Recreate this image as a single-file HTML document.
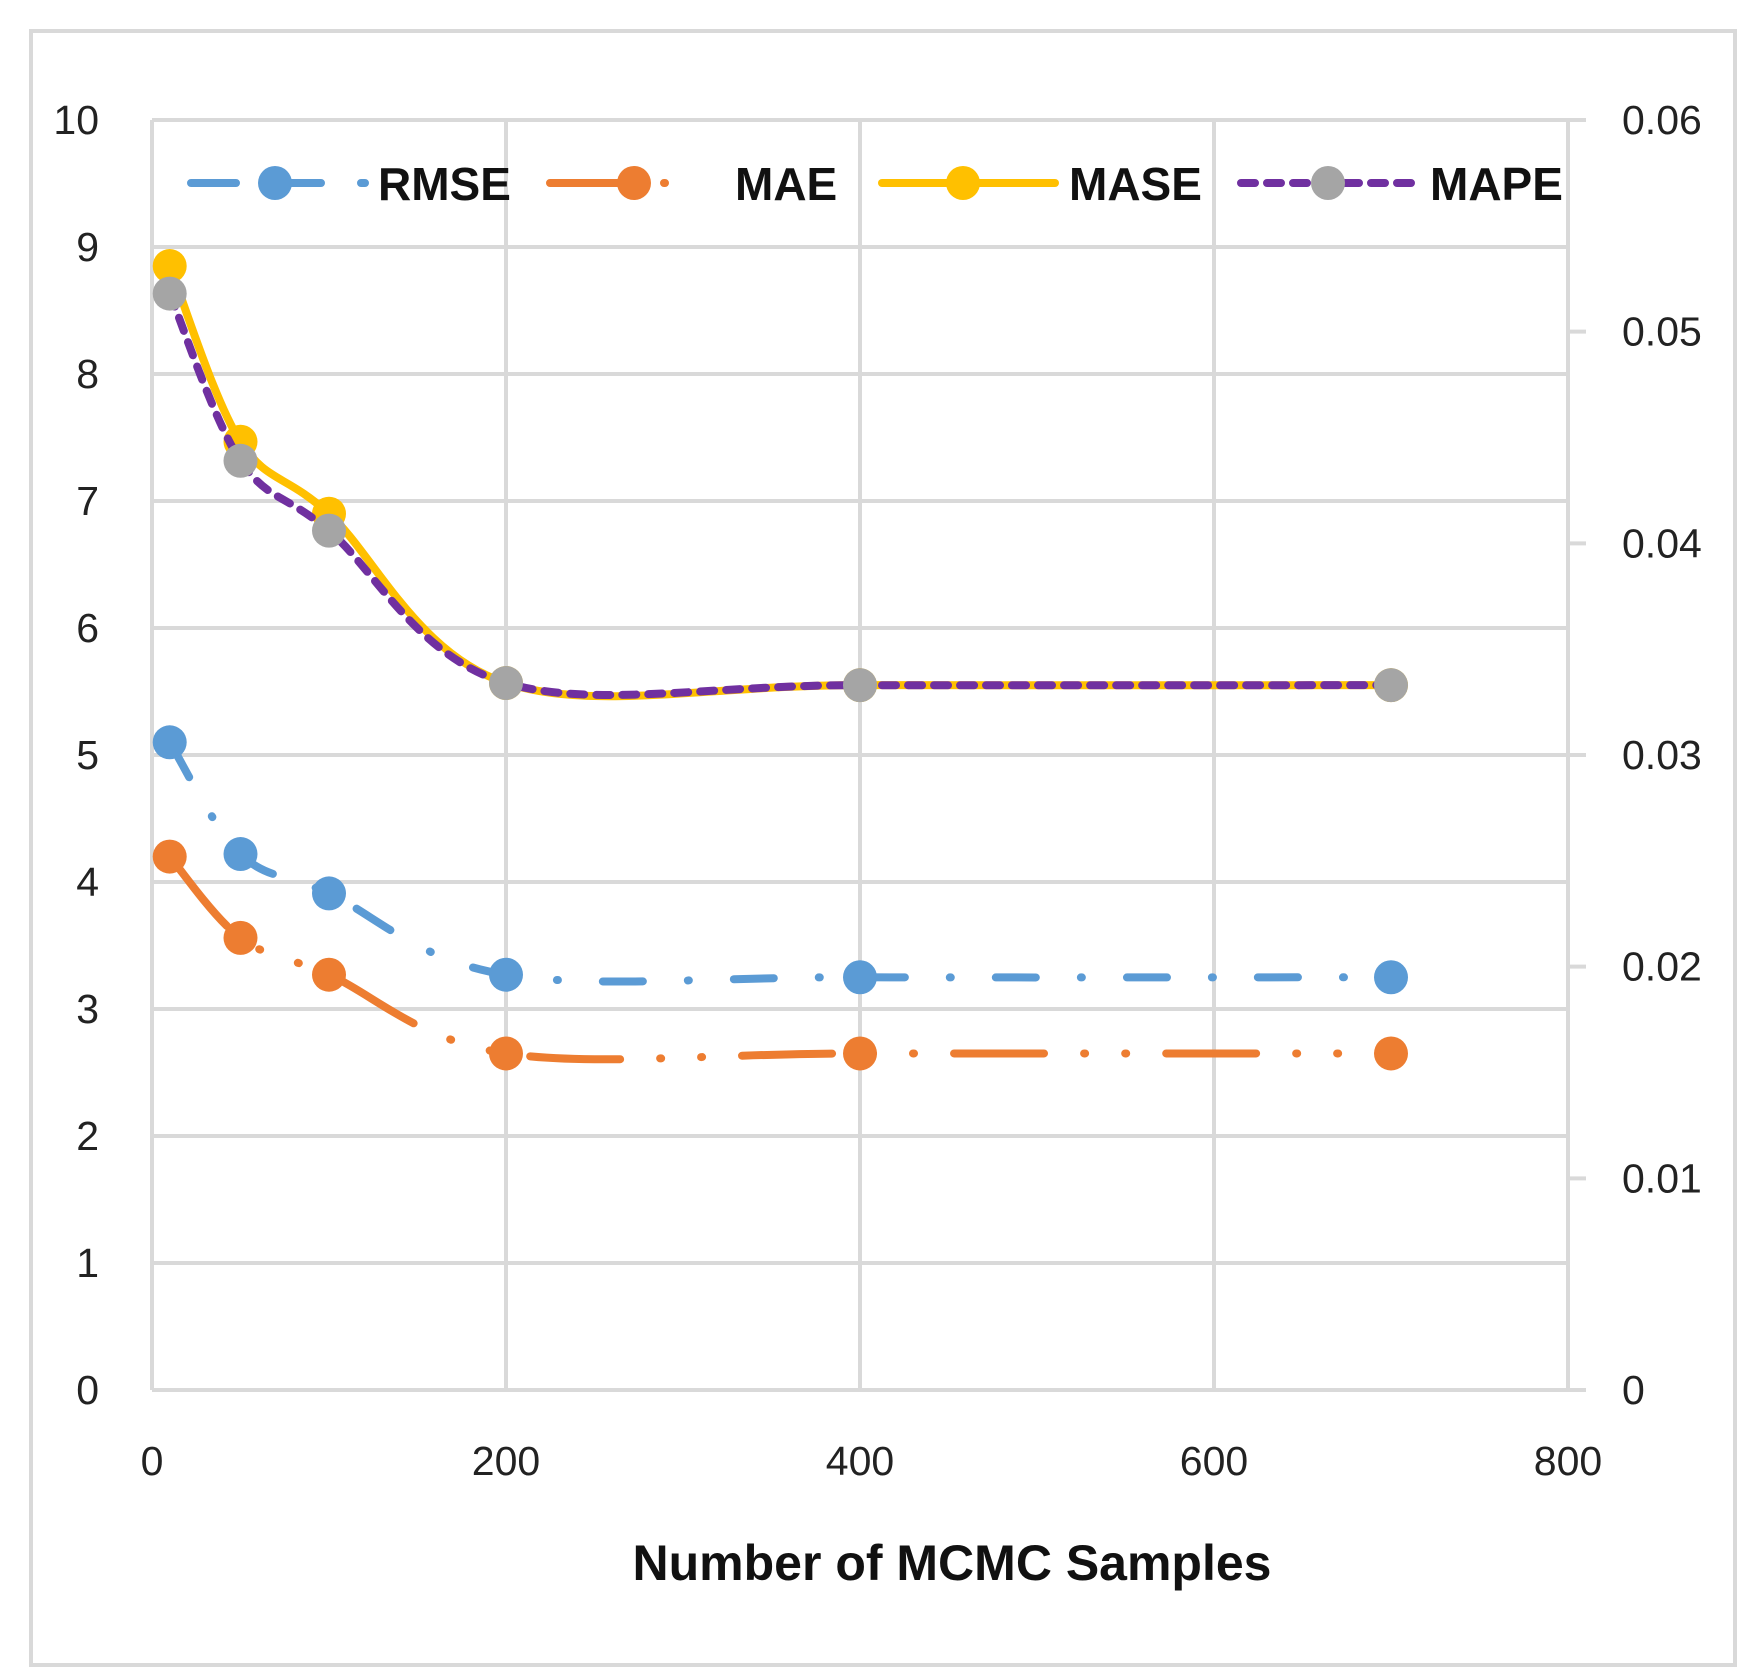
<!DOCTYPE html>
<html><head><meta charset="utf-8"><style>
html,body{margin:0;padding:0;background:#fff;}
svg{display:block;font-family:"Liberation Sans",sans-serif;}
</style></head><body>
<svg id="chart" width="1761" height="1679" viewBox="0 0 1761 1679">
<rect x="31" y="31" width="1704" height="1634" fill="#fff" stroke="#d9d9d9" stroke-width="4"/>
<g id="grid"></g>
<g id="series"></g>
<g id="axes"></g>
<g id="legend"></g>
<text x="952" y="1580" text-anchor="middle" font-size="50" font-weight="bold" fill="#111">Number of MCMC Samples</text>
</svg>
<script>
const xValues = [10, 50, 100, 200, 400, 700];
const rmse = [5.1, 4.22, 3.91, 3.27, 3.25, 3.25];
const mae = [4.2, 3.56, 3.27, 2.65, 2.65, 2.65];
const mase = [0.0531, 0.0448, 0.0414, 0.0334, 0.0333, 0.0333];
const mape = [0.0518, 0.0439, 0.0406, 0.0334, 0.0333, 0.0333];
const leftTicks = [0,1,2,3,4,5,6,7,8,9,10];
const rightTicks = ["0","0.01","0.02","0.03","0.04","0.05","0.06"];
const xTicks = [0,200,400,600,800];

const NS="http://www.w3.org/2000/svg";
const L=152,R=1568,T=120,B=1390;
const xs=v=>L+(v/800)*(R-L);
const yl=v=>B-(v/10)*(B-T);
const yr=v=>B-(v/0.06)*(B-T);
function mk(tag,attrs,parent){const e=document.createElementNS(NS,tag);for(const k in attrs)e.setAttribute(k,attrs[k]);parent.appendChild(e);return e;}
const grid=document.getElementById('grid'),axes=document.getElementById('axes'),ser=document.getElementById('series'),leg=document.getElementById('legend');

leftTicks.forEach(v=>{
  const y=yl(v);
  const g=mk('line',{x1:L,x2:R,y1:y,y2:y,stroke:'#d9d9d9','stroke-width':4},grid);
  
  
  const t=mk('text',{x:99,y:y+14,'text-anchor':'end','font-size':41,fill:'#222'},axes);
  t.textContent=v;
  
  
});
xTicks.forEach(v=>{
  const x=xs(v);
  const g=mk('line',{x1:x,x2:x,y1:T,y2:B,stroke:'#d9d9d9','stroke-width':4},grid);
  
  
  const t=mk('text',{x:x,y:1475,'text-anchor':'middle','font-size':41,fill:'#222'},axes);
  t.textContent=v;
  
  
});
rightTicks.forEach((s,i)=>{
  const y=yr(parseFloat(s));
  const tk=mk('line',{x1:R,x2:R+18,y1:y,y2:y,stroke:'#d9d9d9','stroke-width':4},axes);
  
  
  const t=mk('text',{x:1622,y:y+14,'text-anchor':'start','font-size':41,fill:'#222'},axes);
  t.textContent=s;
  
  
});

function smooth(pts){
  let d='M'+pts[0][0]+','+pts[0][1];
  for(let i=0;i<pts.length-1;i++){
    const p0=pts[i-1]||pts[i],p1=pts[i],p2=pts[i+1],p3=pts[i+2]||p2;
    const c1=[p1[0]+(p2[0]-p0[0])/6,p1[1]+(p2[1]-p0[1])/6];
    const c2=[p2[0]-(p3[0]-p1[0])/6,p2[1]-(p3[1]-p1[1])/6];
    d+=' C'+c1+' '+c2+' '+p2;
  }
  return d;
}
const specs=[
  {name:'rmse',vals:rmse,ys:yl,color:'#5B9BD5',mc:'#5B9BD5',dash:'40 45 1 45'},
  {name:'mae',vals:mae,ys:yl,color:'#ED7D31',mc:'#ED7D31',dash:'90 40 1 40 1 40'},
  {name:'mase',vals:mase,ys:yr,color:'#FFC000',mc:'#FFC000',dash:''},
  {name:'mape',vals:mape,ys:yr,color:'#7030A0',mc:'#A5A5A5',dash:'14 12'}
];
specs.forEach(s=>{
  const pts=s.vals.map((v,i)=>[xs(xValues[i]),s.ys(v)]);
  const p=mk('path',{d:smooth(pts),fill:'none',stroke:s.color,'stroke-width':8,'stroke-linecap':'round','stroke-dasharray':s.dash},ser);
  
  
  pts.forEach(pt=>{
    const c=mk('circle',{cx:pt[0],cy:pt[1],r:17,fill:s.mc},ser);
    
    
  });
});
const legs=[
  {label:'RMSE',x1:191,x2:365,m:275,tx:378,color:'#5B9BD5',mc:'#5B9BD5',dash:'45 40'},
  {label:'MAE',x1:550,x2:690,m:634,tx:735,color:'#ED7D31',mc:'#ED7D31',dash:'84 30 1 60'},
  {label:'MASE',x1:882,x2:1055,m:963,tx:1069,color:'#FFC000',mc:'#FFC000',dash:''},
  {label:'MAPE',x1:1241,x2:1415,m:1328,tx:1430,color:'#7030A0',mc:'#A5A5A5',dash:'14 12'}
];
legs.forEach(l=>{
  const y=183;
  const ln=mk('line',{x1:l.x1,x2:l.x2,y1:y,y2:y,stroke:l.color,'stroke-width':8,'stroke-linecap':'round','stroke-dasharray':l.dash},leg);
  
  
  const c=mk('circle',{cx:l.m,cy:y,r:17,fill:l.mc},leg);
  
  
  const t=mk('text',{x:l.tx,y:y+17,'font-size':46,'font-weight':'bold',fill:'#111'},leg);
  t.textContent=l.label;
  
  
});
</script>
</body></html>
